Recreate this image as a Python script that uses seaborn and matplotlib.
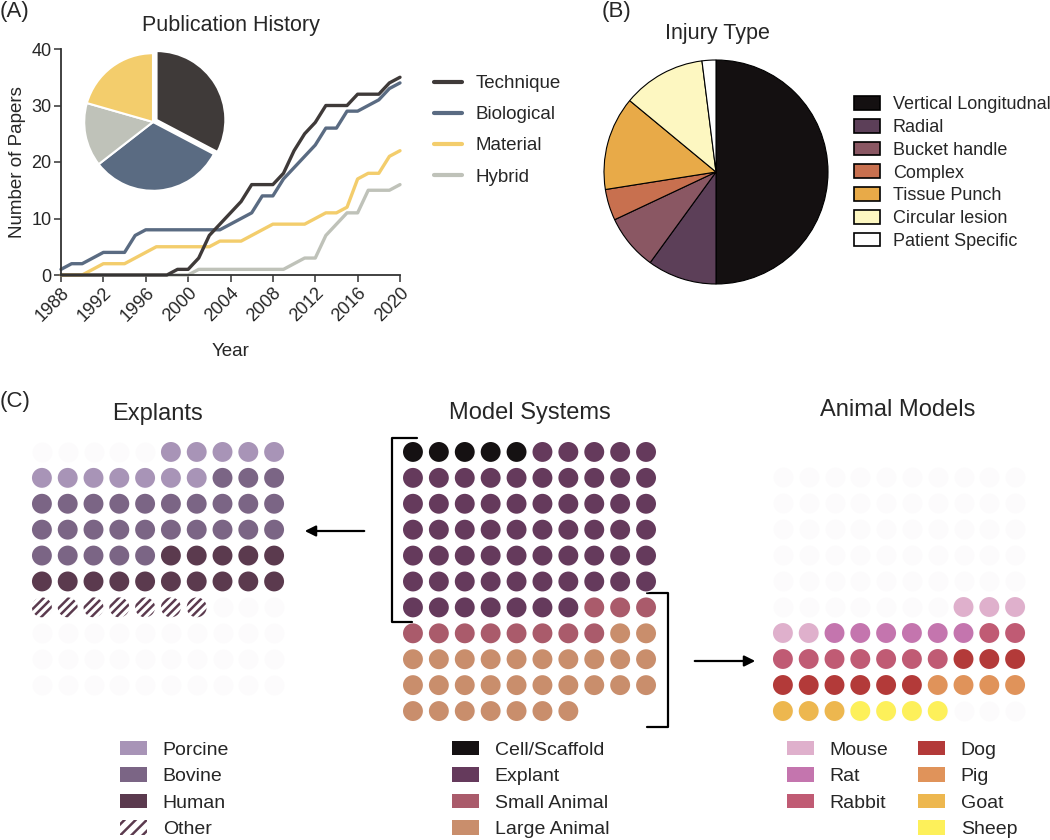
import numpy as np
import pandas as pd
import matplotlib.pyplot as plt
import seaborn as sns
from matplotlib.lines import Line2D
from matplotlib.patches import Patch

# ---- data ----
years = list(range(1988, 2021))
technique = [0, 0, 0, 0, 0, 0, 0, 0, 0, 0, 0, 1, 1, 3, 7, 9, 11, 13, 16, 16, 16,
             18, 22, 25, 27, 30, 30, 30, 32, 32, 32, 34, 35]
biological = [1, 2, 2, 3, 4, 4, 4, 7, 8, 8, 8, 8, 8, 8, 8, 8, 9, 10, 11, 14, 14,
              17, 19, 21, 23, 26, 26, 29, 29, 30, 31, 33, 34]
material = [0, 0, 0, 1, 2, 2, 2, 3, 4, 5, 5, 5, 5, 5, 5, 6, 6, 6, 7, 8, 9,
            9, 9, 9, 10, 11, 11, 12, 17, 18, 18, 21, 22]
hybrid = [0, 0, 0, 0, 0, 0, 0, 0, 0, 0, 0, 0, 0, 1, 1, 1, 1, 1, 1, 1, 1,
          1, 2, 3, 3, 7, 9, 11, 11, 15, 15, 15, 16]

series_names = ['Technique', 'Biological', 'Material', 'Hybrid']
series_colors = ['#3f3a39', '#5a6b82', '#f3cd6c', '#bfc2b9']

injury_labels = ['Vertical Longitudnal', 'Radial', 'Bucket handle', 'Complex',
                 'Tissue Punch', 'Circular lesion', 'Patient Specific']
injury_values = [50, 10, 8, 4.5, 13.5, 12, 2]
injury_colors = ['#141011', '#5c3f58', '#8a5763', '#c8704f', '#e8aa48', '#fdf7c1', '#ffffff']

explant_labels = ['Porcine', 'Bovine', 'Human', 'Other']
explant_counts = [12, 28, 15, 7]
explant_colors = ['#a894b7', '#7b6585', '#5b3a4e', '#5b3a4e']

model_labels = ['Cell/Scaffold', 'Explant', 'Small Animal', 'Large Animal']
model_counts = [5, 62, 11, 29]
model_colors = ['#151112', '#653a5c', '#aa5b6b', '#c98e6c']

animal_labels = ['Mouse', 'Rat', 'Rabbit', 'Dog', 'Pig', 'Goat', 'Sheep']
animal_counts = [5, 6, 9, 9, 4, 3, 4]
animal_colors = ['#dfb0cc', '#c475ae', '#c05b74', '#b33a39', '#e0935a', '#edb74f', '#fdf05a']

ghost = '#fcfbfc'

sns.set_theme(style='white')
plt.rcParams['font.family'] = ['Liberation Sans', 'DejaVu Sans']
plt.rcParams['hatch.linewidth'] = 1.8

W, H = 1050, 840
fig = plt.figure(figsize=(W / 100, H / 100), dpi=100)


def px_rect(l, t, w, h):
    return [l / W, 1 - (t + h) / H, w / W, h / H]


# overlay for labels, brackets, arrows (pixel coordinates)
ov = fig.add_axes([0, 0, 1, 1], zorder=-1)
ov.set_xlim(0, W)
ov.set_ylim(H, 0)
ov.axis('off')

# ---- (A) publication history ----
ax = fig.add_axes(px_rect(61, 49, 339, 226))
lines_df = pd.DataFrame({'year': years * 4,
                         'papers': technique + biological + material + hybrid,
                         'kind': np.repeat(series_names, len(years))})
sns.lineplot(data=lines_df, x='year', y='papers', hue='kind',
             hue_order=['Hybrid', 'Material', 'Biological', 'Technique'],
             palette=dict(zip(series_names, series_colors)),
             linewidth=2.4, legend=False, ax=ax)
for ln in ax.lines:
    ln.set_clip_on(False)
ax.set_xlim(1988, 2020)
ax.set_ylim(0, 40)
ax.set_xticks(range(1988, 2021, 4))
ax.set_yticks(range(0, 41, 10))
ax.tick_params(axis='both', labelsize=13, length=5, width=1.1, color='#333333',
               pad=2, direction='out', bottom=True, left=True)
for lab in ax.get_xticklabels():
    lab.set_rotation(45)
    lab.set_ha('right')
    lab.set_rotation_mode('anchor')
sns.despine(ax=ax)
for s in ['left', 'bottom']:
    ax.spines[s].set_color('#333333')
    ax.spines[s].set_linewidth(1.3)
ax.set_xlabel('Year', fontsize=13.5, labelpad=13)
ax.set_ylabel('Number of Papers', fontsize=13.5, labelpad=4)
ax.set_title('Publication History', fontsize=15.5, pad=13)

line_handles = [Line2D([0], [0], color=c, lw=3) for c in series_colors]
fig.legend(line_handles, series_names, loc='upper left',
           bbox_to_anchor=(434 / W, 1 - 75 / H), frameon=False, fontsize=13.5,
           handlelength=1.5, handletextpad=0.7, labelspacing=0.75,
           borderpad=0, borderaxespad=0)

# inset pie
axp = fig.add_axes(px_rect(153 - 86, 122 - 86, 172, 172))
pie_vals = [technique[-1], biological[-1], hybrid[-1], material[-1]]
pie_cols = [series_colors[0], series_colors[1], series_colors[3], series_colors[2]]
axp.pie(pie_vals, colors=pie_cols, startangle=90, counterclock=False,
        explode=[0.06, 0, 0, 0], wedgeprops=dict(edgecolor='white', linewidth=1.5))

# ---- (B) injury type ----
axb = fig.add_axes(px_rect(716 - 140, 172 - 140, 280, 280))
axb.pie(injury_values, colors=injury_colors, startangle=90, counterclock=False,
        wedgeprops=dict(edgecolor='black', linewidth=0.8))
inj_handles = [Patch(facecolor=c, edgecolor='black', linewidth=1.2) for c in injury_colors]
fig.legend(inj_handles, injury_labels, loc='upper left',
           bbox_to_anchor=(854 / W, 1 - 96 / H), frameon=False, fontsize=13,
           handlelength=1.45, handleheight=0.8, handletextpad=0.7, labelspacing=0.31,
           borderpad=0, borderaxespad=0)

ov.text(0, 12, '(A)', fontsize=16, va='center', ha='left')
ov.text(602, 12, '(B)', fontsize=16, va='center', ha='left')
ov.text(717, 33, 'Injury Type', fontsize=15.5, va='center', ha='center')


# ---- (C) waffles ----
def waffle(rect, counts, colors, nrows, start, ncells, hatch_last=False):
    axw = fig.add_axes(px_rect(*rect))
    cells = pd.DataFrame({'idx': range(ncells)})
    cells['col'] = cells['idx'] % 10
    cells['row'] = cells['idx'] // 10
    sns.scatterplot(data=cells, x='col', y='row', color=ghost, s=205,
                    linewidth=0, legend=False, ax=axw)
    cat = np.repeat(np.arange(len(counts)), counts)
    filled = cells.iloc[start:start + len(cat)].copy()
    filled['cat'] = cat
    solid = filled[~((filled['cat'] == len(counts) - 1) & hatch_last)]
    sns.scatterplot(data=solid, x='col', y='row', hue='cat',
                    palette=dict(enumerate(colors)), s=205, linewidth=0,
                    legend=False, ax=axw)
    if hatch_last:
        hat = filled[filled['cat'] == len(counts) - 1]
        axw.scatter(hat['col'], hat['row'], s=205, facecolor='white',
                    edgecolor=colors[-1], linewidth=0, hatch='////')
    axw.set_xlim(-0.5, 9.5)
    axw.set_ylim(nrows - 0.5, -0.5)
    axw.axis('off')
    return axw


waffle((29, 439, 258, 259), explant_counts, explant_colors, 10, 5, 100, hatch_last=True)
waffle((400, 439, 259, 285), model_counts, model_colors, 11, 0, sum(model_counts))
waffle((770, 464, 258, 260), animal_counts, animal_colors, 10, 57, 100)

ov.text(0, 401, '(C)', fontsize=16, va='center', ha='left')
ov.text(158, 414, 'Explants', fontsize=17, va='center', ha='center')
ov.text(530, 413, 'Model Systems', fontsize=17, va='center', ha='center')
ov.text(898, 410, 'Animal Models', fontsize=17, va='center', ha='center')

# brackets and arrows
ov.plot([417, 392, 392, 412], [438, 438, 622, 622], color='black', lw=1.6)
ov.plot([647, 668, 668, 647], [593, 593, 727, 727], color='black', lw=1.6)
ov.annotate('', xy=(302, 531), xytext=(367, 531),
            arrowprops=dict(arrowstyle='-|>', color='black', lw=1.6, mutation_scale=16))
ov.annotate('', xy=(758, 661), xytext=(692, 661),
            arrowprops=dict(arrowstyle='-|>', color='black', lw=1.6, mutation_scale=16))

# legends for C
leg_kw = dict(loc='upper left', frameon=False, fontsize=14, handlelength=1.4,
              handleheight=0.75, handletextpad=0.8, labelspacing=0.44,
              borderpad=0, borderaxespad=0)
exp_handles = [Patch(facecolor=c, linewidth=0) for c in explant_colors[:3]]
exp_handles.append(Patch(facecolor='white', edgecolor=explant_colors[3], linewidth=0, hatch='///'))
fig.legend(exp_handles, explant_labels, bbox_to_anchor=(120 / W, 1 - 741 / H), **leg_kw)
mod_handles = [Patch(facecolor=c, linewidth=0) for c in model_colors]
fig.legend(mod_handles, model_labels, bbox_to_anchor=(452 / W, 1 - 741 / H), **leg_kw)
ani_handles = [Patch(facecolor=c, linewidth=0) for c in animal_colors]
fig.legend(ani_handles[:3], animal_labels[:3], bbox_to_anchor=(787 / W, 1 - 741 / H), **leg_kw)
fig.legend(ani_handles[3:], animal_labels[3:], bbox_to_anchor=(918 / W, 1 - 741 / H), **leg_kw)

fig.savefig('out.png', dpi=100)
